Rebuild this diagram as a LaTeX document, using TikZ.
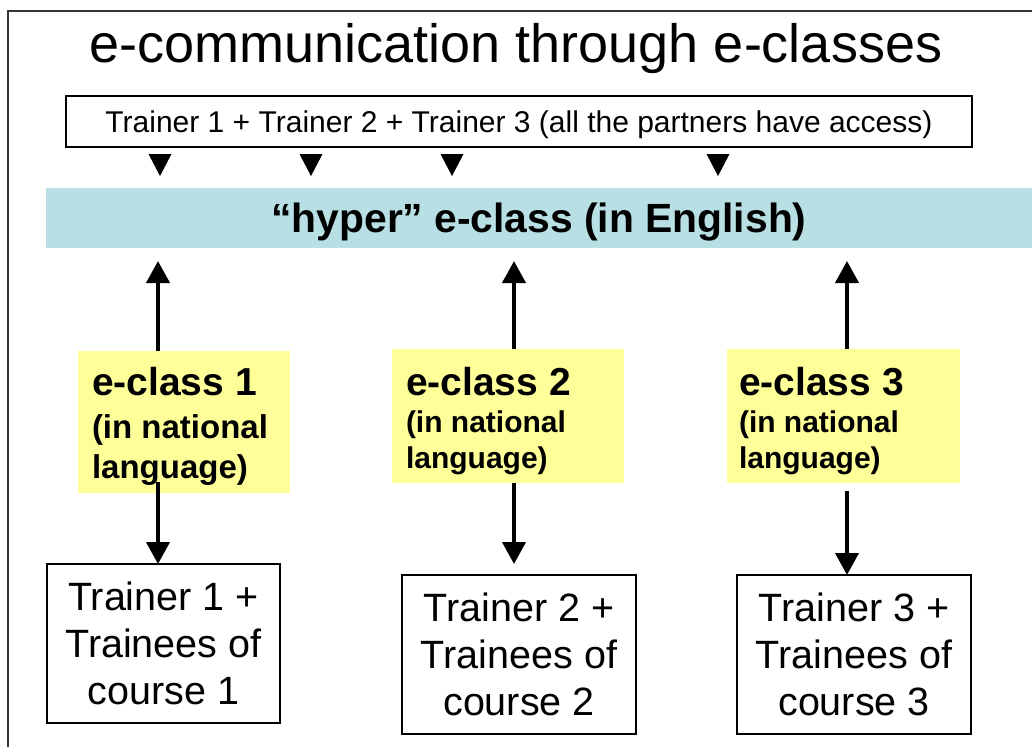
\documentclass[tikz,border=0pt]{standalone}
\usepackage{fontspec}
\setmainfont{Liberation Sans}
\usetikzlibrary{arrows.meta,calc}
\definecolor{eblue}{RGB}{184,224,228}
\definecolor{eyellow}{RGB}{255,255,153}
\begin{document}
\begin{tikzpicture}[x=1pt,y=-1pt,
  every node/.style={inner sep=0pt,outer sep=0pt},
  plainbox/.style={draw=black,line width=1.5pt,fill=white,align=center,font=\fontsize{39.5}{47}\selectfont},
  ybox/.style={fill=eyellow},
  arr/.style={line width=4pt,-{Triangle[width=23pt,length=22pt]}},
  framel/.style={draw=black!80,line width=1.5pt}
]
\useasboundingbox (0,0) rectangle (1032,747);
\draw[framel] (8,747) -- (8,11) -- (1032,11);

\node[anchor=base,font=\fontsize{54}{60}\selectfont] (title) at (516,62) {e-communication through e-classes};

\node[draw=black,line width=1.5pt,minimum width=906pt,minimum height=51pt,text height=22pt,text depth=0pt,font=\fontsize{30}{36}\selectfont] (top) at (519,121.5)
  {Trainer 1 + Trainer 2 + Trainer 3 (all the partners have access)};

\foreach \x in {160,311,452,718}
  \fill (\x-11.5,154) -- (\x+11.5,154) -- (\x,176) -- cycle;

\node[fill=eblue,minimum width=986pt,minimum height=60pt,text height=30pt,text depth=2pt,font=\bfseries\fontsize{40.8}{48}\selectfont] (hyper) at (539,218)
  {“hyper” e-class (in English)};

\node[ybox,minimum width=212pt,minimum height=142pt] (ec1) at (184,422) {};
\node[ybox,minimum width=232pt,minimum height=134pt] (ec2) at (508,416) {};
\node[ybox,minimum width=233pt,minimum height=134pt] (ec3) at (843.5,416) {};

\node[anchor=north west,align=left,font=\bfseries\fontsize{33}{40}\selectfont] (ec1t) at ([xshift=14pt,yshift=-16pt]ec1.north west)
  {{\fontsize{39}{40}\selectfont e-class 1}\\[3pt](in national\\language)};
\node[anchor=north west,align=left,font=\bfseries\fontsize{30}{36}\selectfont] (ec2t) at ([xshift=14pt,yshift=-18pt]ec2.north west)
  {{\fontsize{39}{36}\selectfont e-class 2}\\[1pt](in national\\language)};
\node[anchor=north west,align=left,font=\bfseries\fontsize{30}{36}\selectfont] (ec3t) at ([xshift=12pt,yshift=-18pt]ec3.north west)
  {{\fontsize{39}{36}\selectfont e-class 3}\\[1pt](in national\\language)};

\node[plainbox,minimum width=233pt,minimum height=159pt] (tr1) at (163.5,643.5) {Trainer 1 +\\Trainees of\\course 1};
\node[plainbox,minimum width=234pt,minimum height=159pt] (tr2) at (519,654.5) {Trainer 2 +\\Trainees of\\course 2};
\node[plainbox,minimum width=234pt,minimum height=159pt] (tr3) at (854,654.5) {Trainer 3 +\\Trainees of\\course 3};

\coordinate (c1) at (158,0);
\coordinate (c2) at (514,0);
\coordinate (c3) at (847,0);

\draw[arr,shorten >=13pt] (c1 |- ec1.north) -- (c1 |- hyper.south);
\draw[arr,shorten >=13pt] (c2 |- ec2.north) -- (c2 |- hyper.south);
\draw[arr,shorten >=13pt] (c3 |- ec3.north) -- (c3 |- hyper.south);

\draw[arr,shorten <=-11pt] (c1 |- ec1.south) -- (c1 |- tr1.north);
\draw[arr,shorten >=11pt] (c2 |- ec2.south) -- (c2 |- tr2.north);
\draw[arr,shorten <=8pt] (c3 |- ec3.south) -- (c3 |- tr3.north);
\end{tikzpicture}
\end{document}
